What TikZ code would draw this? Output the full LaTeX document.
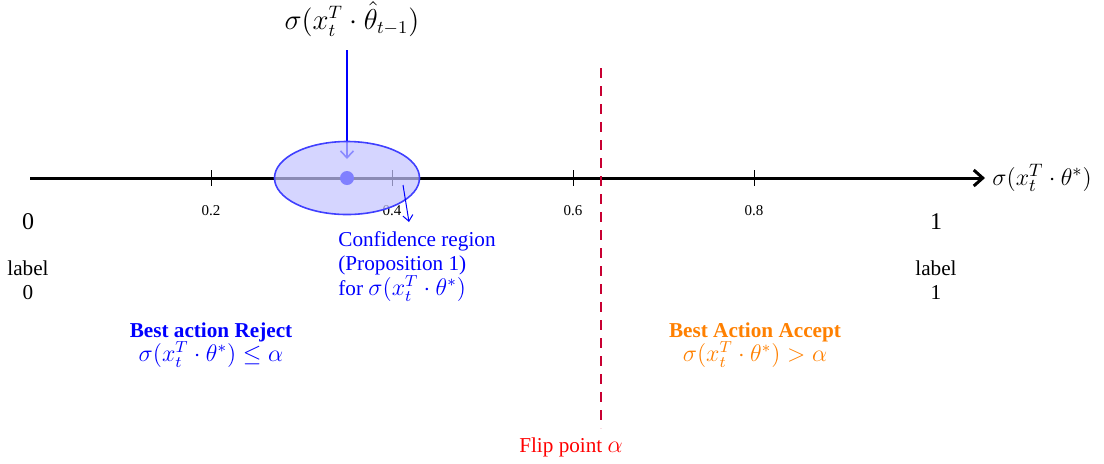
\documentclass[tikz,border=0pt]{standalone}
\usepackage{fontspec}
\setmainfont{Liberation Serif}
\usetikzlibrary{arrows.meta,shapes.geometric}
\definecolor{flipred}{RGB}{200,0,50}
\newcommand{\txtsize}{\fontsize{10.6}{12.25}\selectfont}
\newcommand{\mth}[1]{{\fontsize{12}{12.25}\selectfont$#1$}}
\begin{document}
\begin{tikzpicture}[x=0.5pt,y=-0.5pt,
  tick/.style={line width=0.45pt},
  ticklab/.style={font=\fontsize{7.5}{9}\selectfont},
  bluetxt/.style={text=blue,font=\txtsize},
  orangetxt/.style={text=orange,font=\txtsize}]
\useasboundingbox (0,0) rectangle (1104,463);
% axis
\coordinate (a0) at (30,178);
\coordinate (a1) at (985,178);
\draw[line width=1.5pt,-{Straight Barb[length=4.5pt,width=8pt]}] (a0) -- (a1);
\node[anchor=west,inner sep=2pt,font=\fontsize{12.4}{14}\selectfont] (axlab) at (988,178) {$\sigma(x_t^T\cdot\theta^*)$};
% ticks
\foreach \v/\x in {0.2/211,0.4/392,0.6/573,0.8/754}{
  \draw[tick] (\x,170) -- (\x,186);
  \node[ticklab] (t\x) at (\x,211) {\v};
}
\node[font=\large] (zero) at (28,222) {0};
\node[font=\large] (one) at (936,222) {1};
\node[align=center,font=\txtsize] (l0) at (28,280) {label\\0};
\node[align=center,font=\txtsize] (l1) at (936,280) {label\\1};
% estimate
\node[font=\fontsize{13.5}{15}\selectfont] (est) at (352,19) {$\sigma(x_t^T\cdot\hat\theta_{t-1})$};
\coordinate (estpt) at (347,178);
\coordinate (estarr) at (347,50);
\coordinate (esttip) at (347,159);
\draw[blue,line width=0.8pt,-{Straight Barb[length=3.5pt,width=6.5pt]}] (estarr) -- (esttip);
% ellipse
\node[draw=blue!75,line width=0.8pt,fill=blue!23,fill opacity=0.71,ellipse,minimum width=72.5pt,minimum height=36.5pt,inner sep=0] (ell) at (estpt) {};
\fill[blue!50] (estpt) circle (7);
% confidence label
\node[bluetxt,align=left,anchor=north west,inner sep=0] (conf) at (338,231) {Confidence region\\(Proposition 1)\\for \mth{\sigma(x_t^T\cdot\theta^*)}};
\coordinate (cs) at (403,185);
\draw[blue,line width=0.5pt,-{Straight Barb[length=3pt,width=5pt]}] (cs) -- (409,222);
% flip line
\coordinate (ftop) at (601,68);
\node[text=red,font=\txtsize] (flip) at (571,447) {Flip point \mth{\alpha}};
\draw[flipred,line width=1pt,dash pattern=on 5pt off 4pt] (ftop) -- (601,428);
% regions
\node[bluetxt,align=center] (rej) at (211,345) {\textbf{Best action Reject}\\\mth{\sigma(x_t^T\cdot\theta^*)\le\alpha}};
\node[orangetxt,align=center] (acc) at (755,345) {\textbf{Best Action Accept}\\\mth{\sigma(x_t^T\cdot\theta^*)>\alpha}};
\end{tikzpicture}
\end{document}
